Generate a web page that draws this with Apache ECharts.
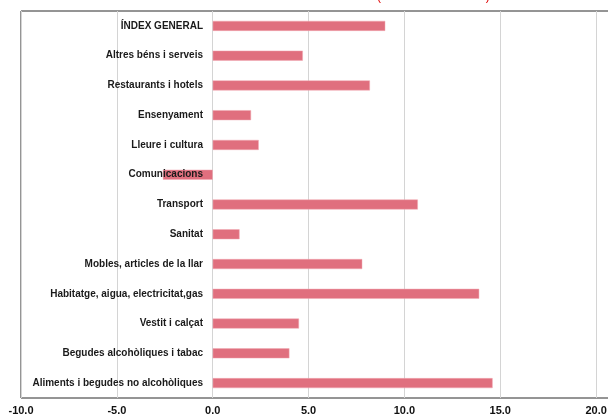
<!DOCTYPE html>
<html>
<head>
<meta charset="utf-8">
<script src="https://cdn.jsdelivr.net/npm/echarts@6/dist/echarts.min.js"></script>
<style>
  html, body { margin: 0; padding: 0; background: #fff; }
  #chart { width: 608px; height: 418px; }
</style>
</head>
<body>
<div id="chart"></div>
<script>
// categories from top to bottom
const categories = [
  'ÍNDEX GENERAL',
  'Altres béns i serveis',
  'Restaurants i hotels',
  'Ensenyament',
  'Lleure i cultura',
  'Comunicacions',
  'Transport',
  'Sanitat',
  'Mobles, articles de la llar',
  'Habitatge, aigua, electricitat,gas',
  'Vestit i calçat',
  'Begudes alcohòliques i tabac',
  'Aliments i begudes no alcohòliques'
]
const values = [9.0, 4.7, 8.2, 2.0, 2.4, -2.6, 10.7, 1.4, 7.8, 13.9, 4.5, 4.0, 14.6]
const titleText = '(variació anual en %)'

const chart = echarts.init(document.getElementById('chart'))

const option = {
  animation: false,
  title: {
    text: titleText,
    left: 372,
    top: -14,
    textStyle: { color: '#e00000', fontSize: 12, fontWeight: 'normal', fontFamily: 'Liberation Sans' }
  },
  grid: {
    left: 21,
    right: -84,
    top: 11,
    bottom: 20,
    outerBoundsMode: 'none',
    containLabel: false,
    show: true,
    borderColor: '#2b2b2b',
    borderWidth: 1
  },
  xAxis: {
    type: 'value',
    min: -10,
    max: 25,
    interval: 5,
    axisLine: { show: false },
    axisTick: { show: false },
    splitLine: { show: true, lineStyle: { color: '#d4d4d4', width: 1 } },
    axisLabel: {
      margin: 7,
      fontSize: 11,
      fontWeight: 'bold',
      color: '#111',
      fontFamily: 'Liberation Sans',
      formatter: v => v.toFixed(1)
    }
  },
  yAxis: {
    type: 'category',
    inverse: true,
    data: categories,
    z: 10,
    // axis moved onto the 0 line (10 units * 19.2px)
    offset: -192,
    axisLine: { show: false },
    axisTick: { show: false },
    axisLabel: {
      margin: 10,
      fontSize: 10,
      fontWeight: 'bold',
      color: '#1a1a1a',
      fontFamily: 'Liberation Sans Narrow, Liberation Sans'
    }
  },
  series: [
    {
      type: 'bar',
      data: values,
      barWidth: 10,
      itemStyle: { color: '#e06f7e', borderColor: '#f0a8b2', borderWidth: 0.5 }
    }
  ]
}

chart.setOption(option)
</script>
</body>
</html>
